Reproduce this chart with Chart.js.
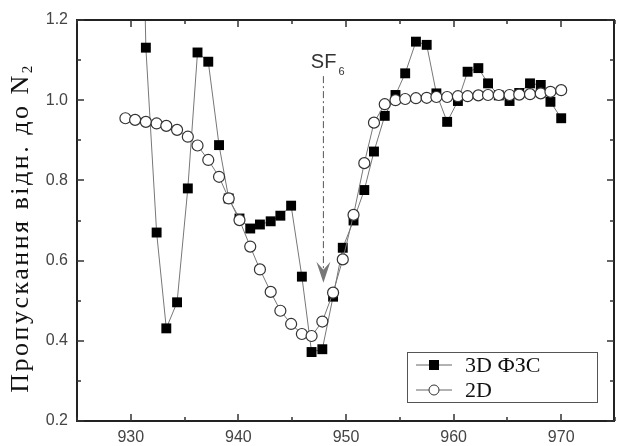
<!DOCTYPE html>
<html lang="uk">
<head>
    <meta charset="UTF-8">
    <title>Пропускання SF6</title>
    <script src="https://cdn.jsdelivr.net/npm/chart.js"></script>
    <style>
        body {
            margin: 0;
            background-color: #fff;
        }
        canvas {
            display: block;
        }
    </style>
</head>
<body>
    <canvas id="chart" width="622" height="446"></canvas>
    <script>
        // wavenumbers
        const waveNumbers = [929.5, 930.4, 931.4, 932.4, 933.3, 934.3, 935.3, 936.2, 937.2, 938.2,
            939.1, 940.1, 941.1, 942.0, 943.0, 943.9, 944.9, 945.9, 946.8, 947.8,
            948.8, 949.7, 950.7, 951.7, 952.6, 953.6, 954.6, 955.5, 956.5, 957.5,
            958.4, 959.4, 960.4, 961.3, 962.3, 963.2, 964.2, 965.2, 966.1, 967.1,
            968.1, 969.0, 970.0];

        // 3D ФЗС (first point missing, second one is off the top of the axis)
        const fzsValues = [null, 2.4, 1.131, 0.670, 0.431, 0.496, 0.780, 1.119, 1.096, 0.888,
            0.755, 0.705, 0.680, 0.690, 0.698, 0.712, 0.737, 0.560, 0.372, 0.379,
            0.510, 0.632, 0.700, 0.776, 0.872, 0.961, 1.013, 1.067, 1.146, 1.138,
            1.017, 0.946, 0.998, 1.071, 1.080, 1.042, 1.012, 0.998, 1.018, 1.042,
            1.038, 0.996, 0.955];

        // 2D
        const twoDValues = [0.955, 0.951, 0.946, 0.942, 0.936, 0.926, 0.909, 0.887, 0.851, 0.809,
            0.755, 0.701, 0.635, 0.578, 0.522, 0.475, 0.442, 0.417, 0.412, 0.448,
            0.520, 0.603, 0.714, 0.843, 0.944, 0.990, 1.000, 1.003, 1.005, 1.006,
            1.008, 1.008, 1.010, 1.010, 1.012, 1.013, 1.013, 1.013, 1.014, 1.015,
            1.017, 1.021, 1.025];

        const seriesNames = ['3D ФЗС', '2D'];
        const xTicks = [930, 940, 950, 960, 970];
        const xMinorTicks = [925, 935, 945, 955, 965, 975];
        const yTicks = [0.2, 0.4, 0.6, 0.8, 1.0, 1.2];
        const yMinorTicks = [0.3, 0.5, 0.7, 0.9, 1.1];
        const yTitle = 'Пропускання відн. до N';

        // SF6 marker: x position, top of dash-dot line, arrow tip
        const sfX = 947.9;
        const sfTop = 1.06;
        const sfTip = 0.545;

        const tickFont = { family: '"Liberation Sans", Arial, sans-serif', size: 16 };
        const serif = '"Liberation Serif", "Times New Roman", serif';

        // frame, inward ticks, y title, SF6 arrow and legend
        const decorations = {
            id: 'decorations',
            afterDraw(chart) {
                const { ctx, chartArea: a, scales } = chart;
                const xs = scales.x, ys = scales.y;
                ctx.save();

                ctx.strokeStyle = '#222';
                ctx.lineWidth = 2;
                ctx.beginPath();
                ctx.rect(a.left, a.top, a.right - a.left - 1, a.bottom - a.top);
                ctx.stroke();

                ctx.lineWidth = 1.5;
                ctx.strokeStyle = '#333';
                ctx.beginPath();
                const xt = (v, len) => {
                    const p = Math.round(xs.getPixelForValue(v));
                    ctx.moveTo(p, a.bottom); ctx.lineTo(p, a.bottom - len);
                    ctx.moveTo(p, a.top); ctx.lineTo(p, a.top + len);
                };
                const yt = (v, len) => {
                    const p = Math.round(ys.getPixelForValue(v));
                    ctx.moveTo(a.left, p); ctx.lineTo(a.left + len, p);
                    ctx.moveTo(a.right - 1, p); ctx.lineTo(a.right - 1 - len, p);
                };
                xTicks.forEach(v => xt(v, 7));
                xMinorTicks.forEach(v => xt(v, 4));
                yTicks.forEach(v => yt(v, 7));
                yMinorTicks.forEach(v => yt(v, 4));
                ctx.stroke();

                // y axis title
                ctx.save();
                ctx.translate(21, 228);
                ctx.rotate(-Math.PI / 2);
                ctx.fillStyle = '#111';
                ctx.textBaseline = 'middle';
                ctx.textAlign = 'left';
                ctx.letterSpacing = '2.5px';
                ctx.font = '26px ' + serif;
                const w1 = ctx.measureText(yTitle).width;
                ctx.font = '15px ' + serif;
                const w2 = ctx.measureText('2').width;
                const start = -(w1 + w2) / 2;
                ctx.font = '26px ' + serif;
                ctx.fillText(yTitle, start, 0);
                ctx.font = '15px ' + serif;
                ctx.fillText('2', start + w1, 7);
                ctx.restore();

                // SF6 annotation
                const px = xs.getPixelForValue(sfX);
                const pTop = ys.getPixelForValue(sfTop);
                const pTip = ys.getPixelForValue(sfTip);
                ctx.fillStyle = '#333';
                ctx.font = '20px "Liberation Sans", Arial, sans-serif';
                ctx.textBaseline = 'alphabetic';
                ctx.textAlign = 'right';
                ctx.fillText('SF', px + 13, pTop - 8);
                ctx.font = '11px "Liberation Sans", Arial, sans-serif';
                ctx.textAlign = 'left';
                ctx.fillText('6', px + 15, pTop - 1);

                ctx.strokeStyle = '#555';
                ctx.lineWidth = 1;
                ctx.setLineDash([7, 3, 2, 3]);
                ctx.beginPath();
                ctx.moveTo(px, pTop);
                ctx.lineTo(px, pTip - 10);
                ctx.stroke();
                ctx.setLineDash([]);
                ctx.fillStyle = '#777';
                ctx.beginPath();
                ctx.moveTo(px, pTip);
                ctx.lineTo(px - 7, pTip - 21);
                ctx.lineTo(px, pTip - 13);
                ctx.lineTo(px + 7, pTip - 21);
                ctx.closePath();
                ctx.fill();

                // legend
                const bw = 190, bh = 50;
                const bx = Math.round(a.right - 18 - bw), by = Math.round(a.bottom - 19 - bh);
                ctx.fillStyle = '#fff';
                ctx.fillRect(bx, by, bw, bh);
                ctx.strokeStyle = '#555';
                ctx.lineWidth = 1;
                ctx.strokeRect(bx + 0.5, by + 0.5, bw, bh);
                chart.data.datasets.forEach(ds => {
                    const idx = seriesNames.indexOf(ds.label);
                    const cy = by + 13 + idx * 25;
                    ctx.strokeStyle = '#666';
                    ctx.lineWidth = 1;
                    ctx.beginPath();
                    ctx.moveTo(bx + 9, cy); ctx.lineTo(bx + 45, cy);
                    ctx.stroke();
                    if (ds.pointStyle === 'rect') {
                        ctx.fillStyle = '#000';
                        ctx.fillRect(bx + 22, cy - 5, 10, 10);
                    } else {
                        ctx.fillStyle = '#fff';
                        ctx.strokeStyle = '#333';
                        ctx.beginPath();
                        ctx.arc(bx + 27, cy, 5, 0, Math.PI * 2);
                        ctx.fill();
                        ctx.stroke();
                    }
                    ctx.fillStyle = '#111';
                    ctx.font = '22px ' + serif;
                    ctx.textBaseline = 'middle';
                    ctx.textAlign = 'left';
                    ctx.fillText(ds.label, bx + 58, cy + 1);
                });

                ctx.restore();
            }
        };

        const ctx = document.getElementById('chart').getContext('2d');
        new Chart(ctx, {
            type: 'scatter',
            data: {
                datasets: [{
                    label: seriesNames[1],
                    data: waveNumbers.map((x, i) => ({ x: x, y: twoDValues[i] })),
                    showLine: true,
                    borderColor: '#777',
                    borderWidth: 1,
                    pointStyle: 'circle',
                    pointRadius: 5.5,
                    pointBackgroundColor: '#fff',
                    pointBorderColor: '#333',
                    pointBorderWidth: 1.2,
                    order: 0
                }, {
                    label: seriesNames[0],
                    data: waveNumbers.map((x, i) => ({ x: x, y: fzsValues[i] })),
                    showLine: true,
                    borderColor: '#777',
                    borderWidth: 1,
                    pointStyle: 'rect',
                    pointRadius: 7,
                    pointBackgroundColor: '#000',
                    pointBorderColor: '#000',
                    pointBorderWidth: 0,
                    order: 1
                }]
            },
            options: {
                responsive: false,
                animation: false,
                devicePixelRatio: 1,
                layout: { padding: { top: 20, right: 2, left: 0, bottom: 0 } },
                plugins: {
                    legend: { display: false },
                    tooltip: { enabled: false }
                },
                scales: {
                    x: {
                        type: 'linear',
                        min: 925,
                        max: 975,
                        afterBuildTicks: s => { s.ticks = xTicks.map(v => ({ value: v })); },
                        afterFit: s => { s.height = 25; s.paddingLeft = 0; s.paddingRight = 0; },
                        grid: { display: false, drawTicks: false },
                        border: { display: false },
                        ticks: { color: '#444', font: tickFont, padding: 7, maxRotation: 0, autoSkip: false }
                    },
                    y: {
                        type: 'linear',
                        min: 0.2,
                        max: 1.2,
                        afterBuildTicks: s => { s.ticks = yTicks.map(v => ({ value: v })); },
                        afterFit: s => { s.width = 77; },
                        grid: { display: false, drawTicks: false },
                        border: { display: false },
                        ticks: {
                            color: '#444', font: tickFont, padding: 9, autoSkip: false,
                            callback: v => v.toFixed(1)
                        }
                    }
                }
            },
            plugins: [decorations]
        });
    </script>
</body>
</html>
